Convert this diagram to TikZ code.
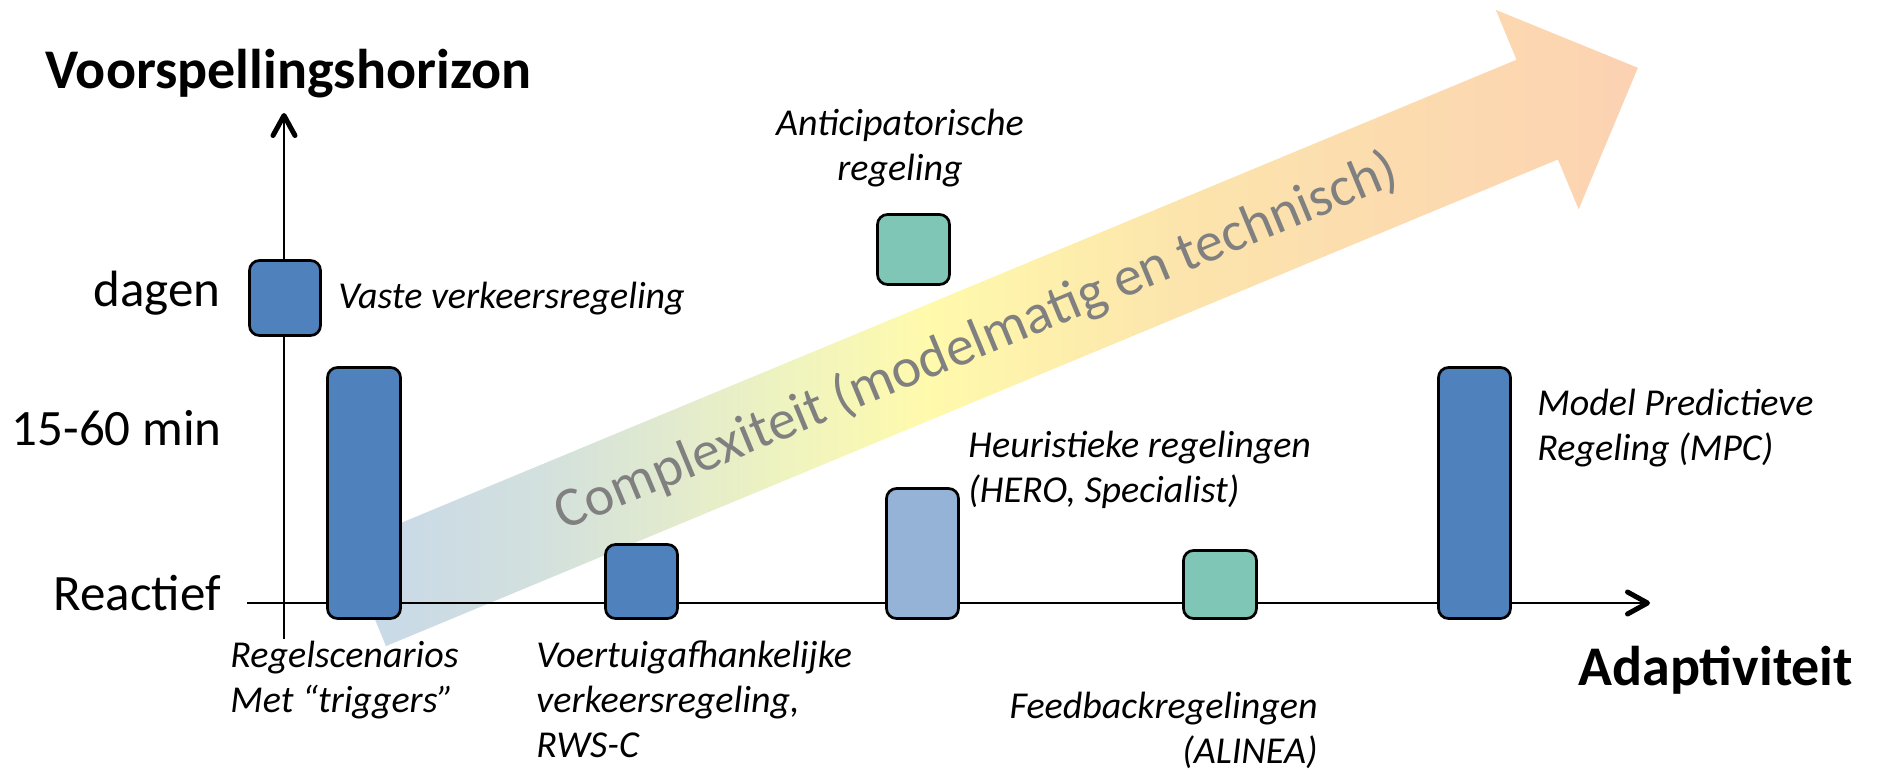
\documentclass[tikz,border=0pt]{standalone}
\usepackage{fontspec}
\setmainfont{Carlito}
\usetikzlibrary{arrows.meta}

\definecolor{boxblue}{RGB}{79,129,189}
\definecolor{boxpale}{RGB}{149,179,215}
\definecolor{boxteal}{RGB}{128,198,182}
\definecolor{arrowtext}{RGB}{128,128,128}

% blue -> yellow -> peach gradient of the complexity arrow
\pgfdeclarehorizontalshading{complexity}{100bp}{%
  rgb(0bp)=(0.78,0.847,0.914);
  rgb(25bp)=(0.78,0.847,0.914);
  rgb(32.5bp)=(0.824,0.878,0.871);
  rgb(42.5bp)=(0.94,0.957,0.745);
  rgb(47.5bp)=(1,0.98,0.675);
  rgb(57.5bp)=(0.988,0.894,0.675);
  rgb(75bp)=(0.988,0.824,0.698);
  rgb(100bp)=(0.988,0.824,0.698)}

\tikzset{
  box/.style={draw=black, line width=1.35pt, rounded corners=5pt, inner sep=0pt},
  ylab/.style={font=\fontsize{25.5}{30}\selectfont, inner sep=0pt, anchor=base east},
  headlab/.style={font=\bfseries\fontsize{28}{34}\selectfont, inner sep=0pt, anchor=base west},
  itlab/.style={font=\itshape\fontsize{19}{22.5}\selectfont, inner sep=0pt},
  axisline/.style={line width=1.35pt,
    -{Straight Barb[length=10pt,width=11pt,line width=2.5pt,round]}}
}

\begin{document}
\begin{tikzpicture}[x=0.5pt,y=-0.5pt]
\useasboundingbox (0,0) rectangle (1895,771);

% complexity arrow with its caption
\begin{scope}[shift={(365.3,596.2)}, rotate=22.55]
  \shade[shading=complexity] (0,-54) -- (1269,-54) -- (1269,-108) -- (1378,0)
    -- (1269,108) -- (1269,54) -- (0,54) -- cycle;
  \node[text=arrowtext, font=\fontsize{28}{32}\selectfont, transform shape, inner sep=0pt]
    (cplx) at (662,0) {Complexiteit (modelmatig en technisch)};
\end{scope}

% axes
\coordinate (yb) at (284,639);
\coordinate (yt) at (284,113);
\coordinate (xl) at (247,603);
\coordinate (xr) at (1650,603);
\draw[axisline] (yb) -- (yt);
\draw[axisline] (xl) -- (xr);

% control strategies
\node[box, fill=boxblue, minimum width=35.5pt, minimum height=37.5pt] (vaste) at (285,298) {};
\node[box, fill=boxblue, minimum width=36.5pt, minimum height=125.5pt] (regel) at (364,493) {};
\node[box, fill=boxblue, minimum width=36pt, minimum height=37pt] (voer) at (641.5,581.5) {};
\node[box, fill=boxpale, minimum width=36pt, minimum height=65pt] (heur) at (922.5,553.5) {};
\node[box, fill=boxteal, minimum width=36pt, minimum height=35pt] (anti) at (913.5,249.5) {};
\node[box, fill=boxteal, minimum width=36.5pt, minimum height=34pt] (feed) at (1220,584.5) {};
\node[box, fill=boxblue, minimum width=36pt, minimum height=125.5pt] (mpc) at (1474.5,493) {};

% axis titles and levels
\node[headlab] (vh) at (45,88) {Voorspellingshorizon};
\node[headlab] (ad) at (1578,685) {Adaptiviteit};
\node[ylab] (dg) at (221,306) {dagen};
\node[ylab] (mn) at (222,445) {15-60 min};
\node[ylab] (rc) at (221,610) {Reactief};

% strategy labels (anchored at the baseline of their last line)
\node[itlab, anchor=base west] (lvaste) at (338,308) {Vaste verkeersregeling};
\node[itlab, anchor=base west, align=left] (lregel) at (230,712) {Regelscenarios\\Met “triggers”};
\node[itlab, anchor=base west, align=left] (lvoer) at (536,757) {Voertuigafhankelijke\\verkeersregeling,\\RWS-C};
\node[itlab, anchor=base west, align=left] (lheur) at (968,502) {Heuristieke regelingen\\(HERO, Specialist)};
\node[itlab, anchor=base west, align=left] (lmpc) at (1537,460) {Model Predictieve\\Regeling (MPC)};
\node[itlab, anchor=base east, align=right] (lfeed) at (1318,763) {Feedbackregelingen\\(ALINEA)};
\node[itlab, anchor=base, align=center] (lanti) at (900,180) {Anticipatorische\\regeling};
\end{tikzpicture}
\end{document}
